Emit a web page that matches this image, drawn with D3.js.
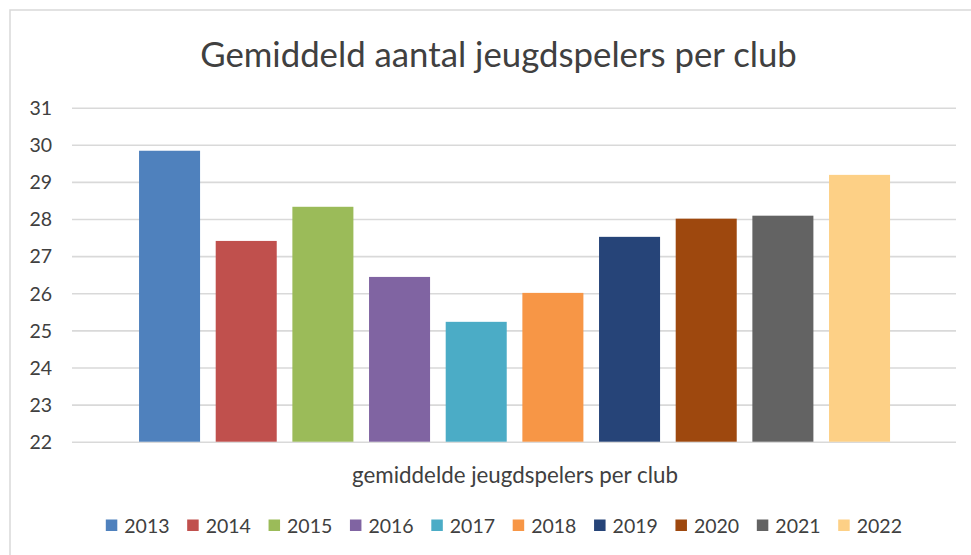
<!DOCTYPE html>
<html>
<head>
<meta charset="utf-8">
<script src="https://cdn.jsdelivr.net/npm/d3@7"></script>
<style>
html,body{margin:0;padding:0;background:#fff;}
svg{display:block;}
text{font-family:Lato, "Open Sans", sans-serif;fill:#404040;}
</style>
</head>
<body>
<svg id="chart" width="971" height="555"></svg>
<script>
const title = "Gemiddeld aantal jeugdspelers per club";
const categoryLabel = "gemiddelde jeugdspelers per club";
const years = ["2013","2014","2015","2016","2017","2018","2019","2020","2021","2022"];
const values = [29.84, 27.41, 28.33, 26.44, 25.23, 26.01, 27.52, 28.01, 28.09, 29.19];
const colors = ["#4f81bd","#c0504d","#9bbb59","#8064a2","#4bacc6","#f79646","#264478","#9e480e","#636363","#fdd086"];
const yTicks = [22,23,24,25,26,27,28,29,30,31];

const svg = d3.select("#chart");

// chart border (right/bottom edges fall outside the picture)
svg.append("rect").attr("x",10).attr("y",10).attr("width",1000).attr("height",600)
  .attr("fill","#fff").attr("stroke","#d9d9d9").attr("stroke-width",1.5);

const plot = {left:72, right:956, top:107.7, bottom:441.7};

const y = d3.scaleLinear().domain([22,31]).range([plot.bottom, plot.top]);
const x = d3.scaleBand().domain(years).range([123.4, 905.7]).paddingInner(0.204).paddingOuter(0.204);

// gridlines
const yAxis = d3.axisLeft(y).tickValues(yTicks).tickSize(-(plot.right-plot.left)).tickPadding(20).tickFormat(d3.format("d"));
const gy = svg.append("g").attr("transform",`translate(${plot.left},0)`).call(yAxis);
gy.select(".domain").remove();
gy.selectAll(".tick line").attr("stroke","#d9d9d9").attr("stroke-width",1.6);
gy.selectAll(".tick text").attr("font-size",19.5).attr("fill","#404040").attr("dy","0.35em");

// bars
svg.append("g").selectAll("rect").data(years).join("rect")
  .attr("x",d=>x(d))
  .attr("width",x.bandwidth())
  .attr("y",(d,i)=>y(values[i]))
  .attr("height",(d,i)=>y(22)-y(values[i]))
  .attr("fill",(d,i)=>colors[i]);

// title
function fitText(sel, target){
  const w = sel.node().getComputedTextLength();
  const fs = parseFloat(sel.attr("font-size"));
  sel.attr("font-size", fs*target/w);
}
const t = svg.append("text").attr("x",498.5).attr("y",67).attr("text-anchor","middle")
  .attr("font-size",34).text(title);
fitText(t, 597);

// category label
const cl = svg.append("text").attr("x",515).attr("y",483).attr("text-anchor","middle")
  .attr("font-size",20).text(categoryLabel);
fitText(cl, 326);

// legend
const legendX = d3.scalePoint().domain(years).range([105.8, 838.2]);
const lg = svg.append("g").selectAll("g").data(years).join("g")
  .attr("transform",d=>`translate(${legendX(d)},0)`);
lg.append("rect").attr("x",0).attr("y",519.5).attr("width",11.5).attr("height",11.5)
  .attr("fill",(d,i)=>colors[i]);
lg.append("text").attr("x",18.5).attr("y",533).attr("font-size",19.5).text(d=>d);
</script>
</body>
</html>
